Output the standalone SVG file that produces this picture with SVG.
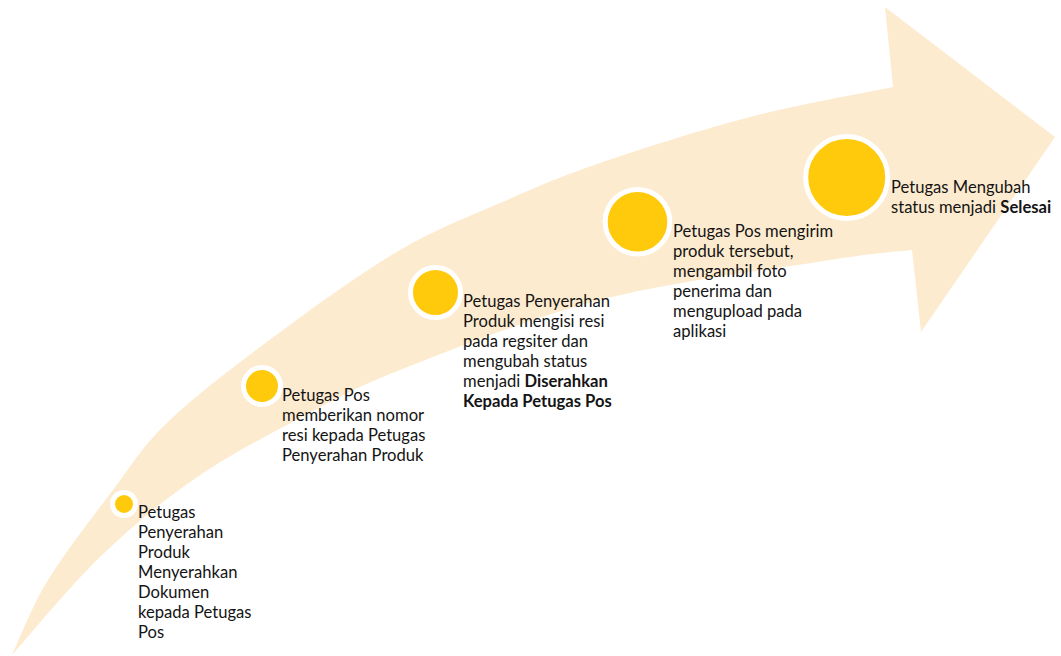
<svg xmlns="http://www.w3.org/2000/svg" width="1061" height="656" viewBox="0 0 1061 656">
<style>
.band{fill:#FDEBCF;stroke:none}
.dot{fill:#FFC90C;stroke:#FFFFFF;stroke-width:5}
.lbl{font-family:Lato,"Open Sans","Liberation Sans",sans-serif;font-size:16.6px;fill:#141414}
.b{font-weight:bold}
</style>
<rect width="1061" height="656" fill="#FFFFFF"/>
<g id="arrow">
<path class="band" d="M12,655 C18,642.5 31.2,607.5 48,580 C64.8,552.5 92.7,516.7 113,490 C133.3,463.3 141.7,446.7 170,420 C198.3,393.3 244.7,358.3 283,330 C321.3,301.7 363.8,271.2 400,250 C436.2,228.8 466.7,217.5 500,203 C533.3,188.5 558.3,177.3 600,163 C641.7,148.7 701.2,129.7 750,117 C798.8,104.3 869.2,92 893,87 L885,7 L1055,137 L921,332 L912,250 C898.3,251.7 882,251.7 830,260 C778,268.3 671.7,281.7 600,300 C528.3,318.3 450,350.3 400,370 C350,389.7 334.5,399.7 300,418 C265.5,436.3 226.3,456.8 193,480 C159.7,503.2 130.2,527.8 100,557 C69.8,586.2 26.7,638.7 12,655 Z"/>
</g>
<g id="connectors"></g>
<g id="step1">
<circle class="dot" cx="124" cy="504" r="11.5"/>
<text class="lbl" x="138" y="518"><tspan x="138" y="518">Petugas</tspan><tspan x="138" y="538">Penyerahan</tspan><tspan x="138" y="558">Produk</tspan><tspan x="138" y="578">Menyerahkan</tspan><tspan x="138" y="598">Dokumen</tspan><tspan x="138" y="618">kepada Petugas</tspan><tspan x="138" y="638">Pos</tspan></text>
</g>
<g id="step2">
<circle class="dot" cx="262" cy="386" r="18.5"/>
<text class="lbl"><tspan x="282" y="401">Petugas Pos</tspan><tspan x="282" y="421">memberikan nomor</tspan><tspan x="282" y="441">resi kepada Petugas</tspan><tspan x="282" y="461">Penyerahan Produk</tspan></text>
</g>
<g id="step3">
<circle class="dot" cx="435.5" cy="292.5" r="25"/>
<text class="lbl"><tspan x="463" y="307">Petugas Penyerahan</tspan><tspan x="463" y="327">Produk mengisi resi</tspan><tspan x="463" y="347">pada regsiter dan</tspan><tspan x="463" y="367">mengubah status</tspan><tspan x="463" y="387">menjadi <tspan class="b">Diserahkan</tspan></tspan><tspan x="463" y="407" class="b">Kepada Petugas Pos</tspan></text>
</g>
<g id="step4">
<circle class="dot" cx="637.5" cy="221.7" r="32.3"/>
<text class="lbl"><tspan x="673" y="237">Petugas Pos mengirim</tspan><tspan x="673" y="257">produk tersebut,</tspan><tspan x="673" y="277">mengambil foto</tspan><tspan x="673" y="297">penerima dan</tspan><tspan x="673" y="317">mengupload pada</tspan><tspan x="673" y="337">aplikasi</tspan></text>
</g>
<g id="step5">
<circle class="dot" cx="846.7" cy="177.5" r="41"/>
<text class="lbl"><tspan x="891" y="193">Petugas Mengubah</tspan><tspan x="891" y="213">status menjadi <tspan class="b">Selesai</tspan></tspan></text>
</g>
</svg>
